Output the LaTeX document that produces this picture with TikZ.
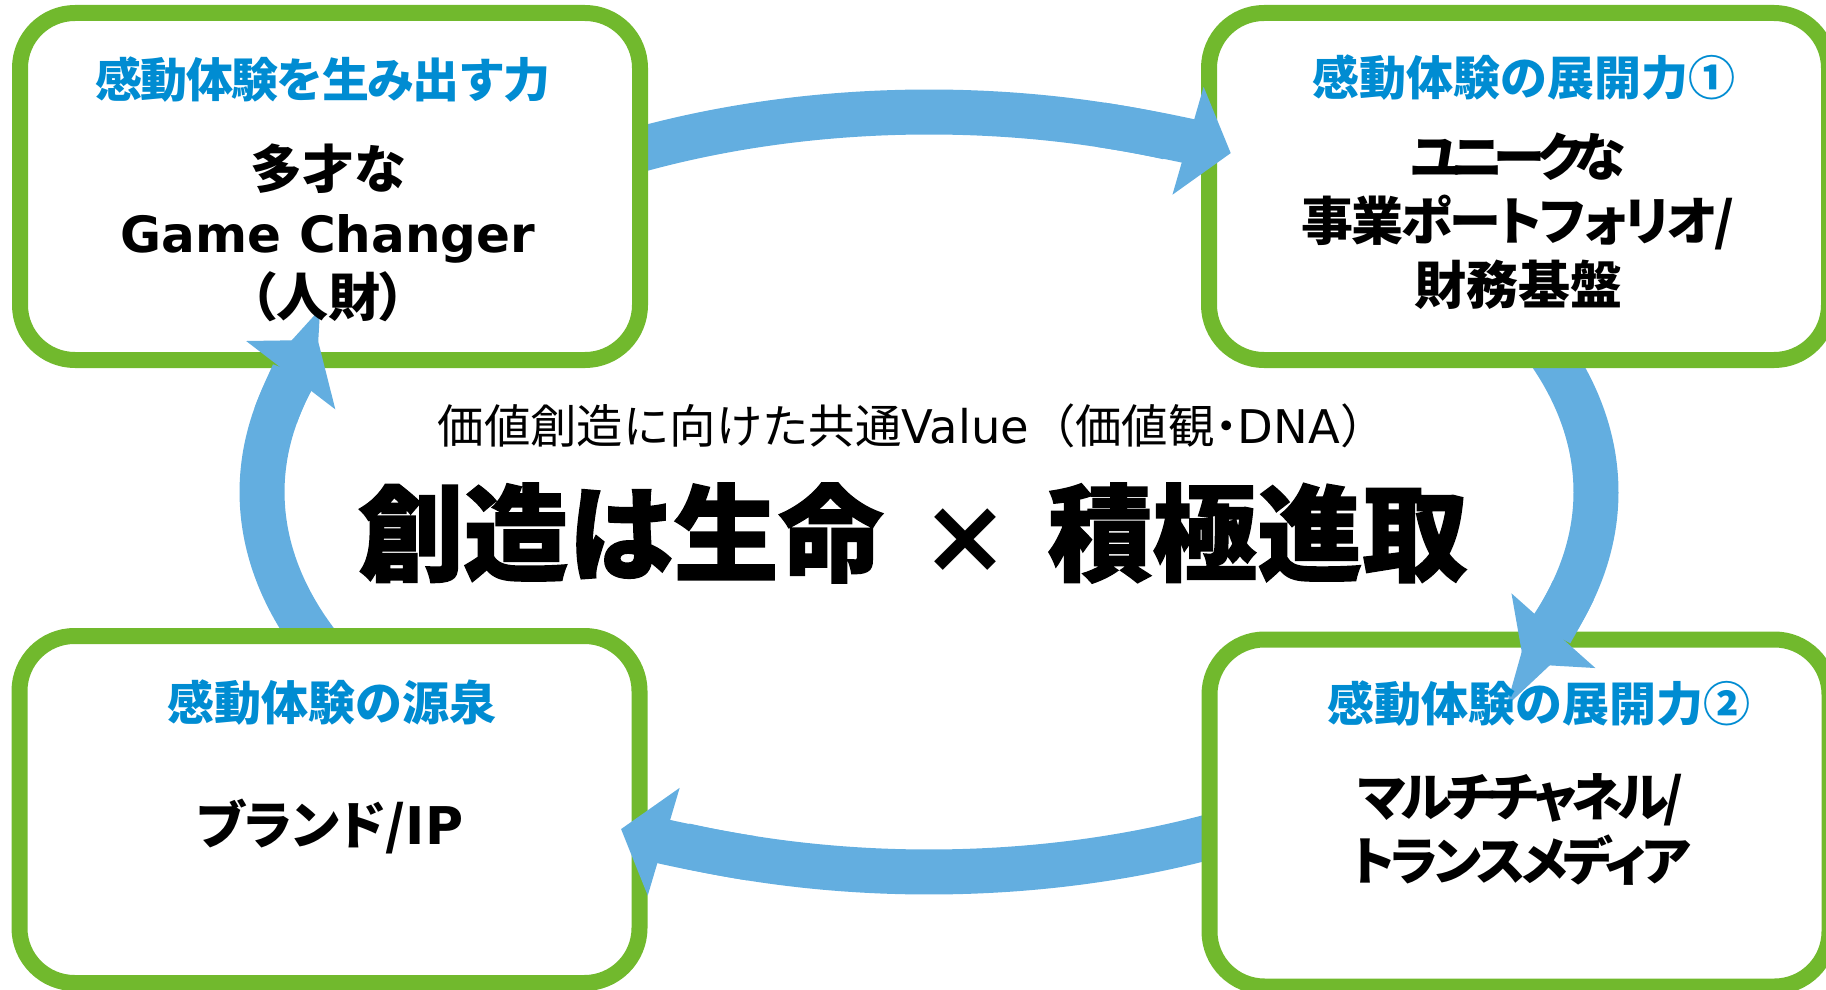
\documentclass[tikz,border=0pt]{standalone}
\usepackage{fontspec}
\setmainfont{Noto Sans CJK JP}
\newfontfamily\jp{Noto Sans CJK JP}
\newfontfamily\jpp{Noto Sans CJK JP}[RawFeature=+palt]
\newfontfamily\jph{Noto Sans CJK JP}[BoldFeatures={FakeBold=1.5}]
\newfontfamily\lat{DejaVu Sans}
\usetikzlibrary{arrows.meta}
\definecolor{boxgreen}{RGB}{113,185,45}
\definecolor{arrowblue}{RGB}{99,174,224}
\definecolor{headblue}{RGB}{0,140,210}
\newcommand{\tight}[2]{{\addfontfeature{LetterSpace=#1}#2}}
\begin{document}
\begin{tikzpicture}[x=0.5pt,y=-0.5pt,
  panel/.style={draw=boxgreen, line width=8pt, fill=white, rounded corners=27.5pt,
    minimum width=310pt, minimum height=173.5pt, inner sep=0pt},
  flow/.style={draw=arrowblue, line width=22.5pt},
  flowhead/.style={flow, -{Triangle[length=22.25pt,width=55pt]}},
  heading/.style={text=headblue, inner sep=0pt, font=\jp\bfseries\fontsize{23.5}{28}\selectfont},
  body/.style={inner sep=0pt, align=center, font=\jpp\bfseries\fontsize{26}{32}\selectfont},
  valueline/.style={inner sep=0pt, font=\jp\fontsize{23.2}{26}\selectfont},
  title/.style={inner sep=0pt, font=\jph\bfseries\fontsize{52.5}{60}\selectfont}]
\useasboundingbox (0,0) rectangle (1826,990);
\clip (0,0) rectangle (1826,990);
\coordinate (ec) at (929,492);
% arrow shafts (tails hidden under the boxes)
\draw[flow] (ec) ++(-120:667 and 380) arc[start angle=-120, end angle=-69, x radius=667, y radius=380];
\draw[flow] (ec) ++(-25:667 and 380) arc[start angle=-25, end angle=21, x radius=667, y radius=380];
\draw[flow] (ec) ++(60:667 and 380) arc[start angle=60, end angle=111.5, x radius=667, y radius=380];
\draw[flow] (ec) ++(153:667 and 380) arc[start angle=153, end angle=197.6, x radius=667, y radius=380];
% boxes
\node[panel] (tl) at (330,186.5) {};
\node[panel] (tr) at (1519,186.5) {};
\node[panel] (bl) at (329.5,809.5) {};
\node[panel] (br) at (1519.5,813) {};
% arrow heads on top
\draw[flowhead] (ec) ++(-75:667 and 380) arc[start angle=-75, end angle=-63.1, x radius=667, y radius=380];
\draw[flowhead] (ec) ++(15:667 and 380) arc[start angle=15, end angle=26.9, x radius=667, y radius=380];
\draw[flowhead] (ec) ++(105.5:667 and 380) arc[start angle=105.5, end angle=117.5, x radius=667, y radius=380];
\draw[flowhead] (ec) ++(191.6:667 and 380) arc[start angle=191.6, end angle=203.6, x radius=667, y radius=380];
% texts
\node[heading] (tlh) at (323,80) {\tight{-3.5}{感動体験を生み出す力}};
\node[body] (tlb) at (328,233) {多才な\\{\lat\fontsize{25}{32}\selectfont Game Changer}\\（人財）};
\node[heading] (trh) at (1524,78) {感動体験の展開力①};
\node[body] (trb) at (1518,221) {\tight{-16}{ユニークな}\\\tight{-4}{事業ポートフォリオ/}\\財務基盤};
\node[heading] (blh) at (332,703) {感動体験の源泉};
\node[body] (blb) at (330,826) {ブランド/{\lat IP}};
\node[heading] (brh) at (1539,704) {感動体験の展開力②};
\node[body] (brb) at (1521,829) {\tight{-10}{マルチチャネル/}\\\tight{-8}{トランスメディア}};
\node[valueline] (val) at (912,426) {価値創造に向けた共通{\lat Value}（価値観{\addfontfeature{RawFeature=+palt}・}{\lat DNA}）};
\node[title, anchor=west] (ttl) at (358,533) {創造は生命\makebox[82pt]{\lat ×}積極進取};
\end{tikzpicture}
\end{document}
